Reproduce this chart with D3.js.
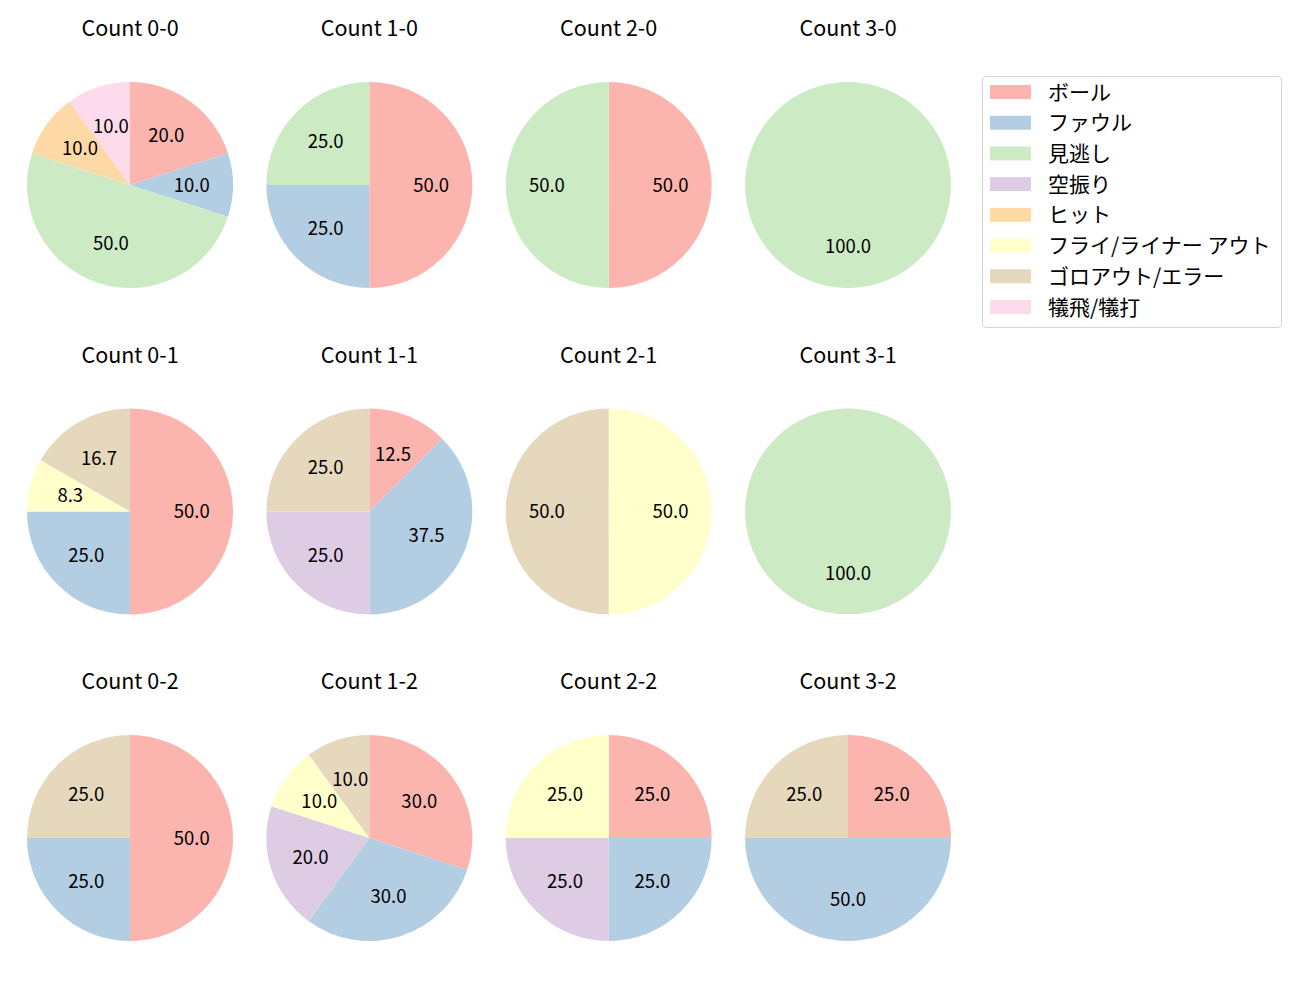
<!DOCTYPE html>
<html><head><meta charset="utf-8">
<script src="https://cdn.jsdelivr.net/npm/d3@7"></script>
<style>body{margin:0;background:#fff;} svg{display:block;font-family:"Noto Sans CJK JP","Noto Sans",sans-serif;}</style>
</head><body>
<svg id="chart" width="1300" height="1000"></svg>
<script>
const categories = ["ボール","ファウル","見逃し","空振り","ヒット","フライ/ライナー アウト","ゴロアウト/エラー","犠飛/犠打"];
const colors = ["#fbb4ae","#b3cde3","#ccebc5","#decbe4","#fed9a6","#ffffcc","#e5d8bd","#fddaec"];
const titles = ["Count 0-0","Count 1-0","Count 2-0","Count 3-0",
                "Count 0-1","Count 1-1","Count 2-1","Count 3-1",
                "Count 0-2","Count 1-2","Count 2-2","Count 3-2"];
// values per category, in category order
const c00 = [20,10,50,0,10,0,0,10];
const c10 = [50,25,25,0,0,0,0,0];
const c20 = [50,0,50,0,0,0,0,0];
const c30 = [0,0,100,0,0,0,0,0];
const c01 = [50,25,0,0,0,8.3,16.7,0];
const c11 = [12.5,37.5,0,25,0,0,25,0];
const c21 = [0,0,0,0,0,50,50,0];
const c31 = [0,0,100,0,0,0,0,0];
const c02 = [50,25,0,0,0,0,25,0];
const c12 = [30,30,0,20,0,10,10,0];
const c22 = [25,25,0,25,0,25,0,0];
const c32 = [25,50,0,0,0,0,25,0];
const series = [c00,c10,c20,c30,c01,c11,c21,c31,c02,c12,c22,c32];

const svg = d3.select("#chart");
const colX = d3.scalePoint().domain([0,1,2,3]).range([130,848]);
const rowY = d3.scalePoint().domain([0,1,2]).range([185,838]);
const R = 103;
const color = d3.scaleOrdinal().domain(categories).range(colors);
const pie = d3.pie().sort(null).value(d=>d.v).startAngle(0).endAngle(2*Math.PI);
const arc = d3.arc().innerRadius(0).outerRadius(R);
const labelArc = d3.arc().innerRadius(R*0.6).outerRadius(R*0.6);

series.forEach((vals,i)=>{
  const col = i%4, row = Math.floor(i/4);
  const g = svg.append("g").attr("transform",`translate(${colX(col)},${rowY(row)})`);
  const data = vals.map((v,k)=>({v,cat:categories[k]})).filter(d=>d.v>0);
  const arcs = pie(data);
  g.selectAll("path").data(arcs).join("path")
    .attr("d",arc).attr("fill",d=>color(d.data.cat));
  g.selectAll("text.lbl").data(arcs).join("text").attr("class","lbl")
    .attr("transform",d=>`translate(${labelArc.centroid(d)})`)
    .attr("text-anchor","middle").attr("dy","0.36em")
    .attr("font-size",18.5).attr("fill","#000")
    .text(d=>d.data.v.toFixed(1));
  g.append("text").attr("x",0).attr("y",-149).attr("text-anchor","middle")
    .attr("font-size",21.5).attr("fill","#000").text(titles[i]);
});

// legend
const lg = svg.append("g").attr("transform","translate(982,76)");
lg.append("rect").attr("x",0.5).attr("y",0.5).attr("width",299).attr("height",251)
  .attr("rx",4).attr("fill","#fff").attr("stroke","#d5d5d5");
const ly = d3.scalePoint().domain(d3.range(categories.length)).range([16,231]);
categories.forEach((c,k)=>{
  lg.append("rect").attr("x",8).attr("y",ly(k)-7).attr("width",41).attr("height",14).attr("fill",colors[k]);
  lg.append("text").attr("x",66).attr("y",ly(k)).attr("dy","0.36em").attr("font-size",21).attr("fill","#000").text(c);
});
</script>
</body></html>
